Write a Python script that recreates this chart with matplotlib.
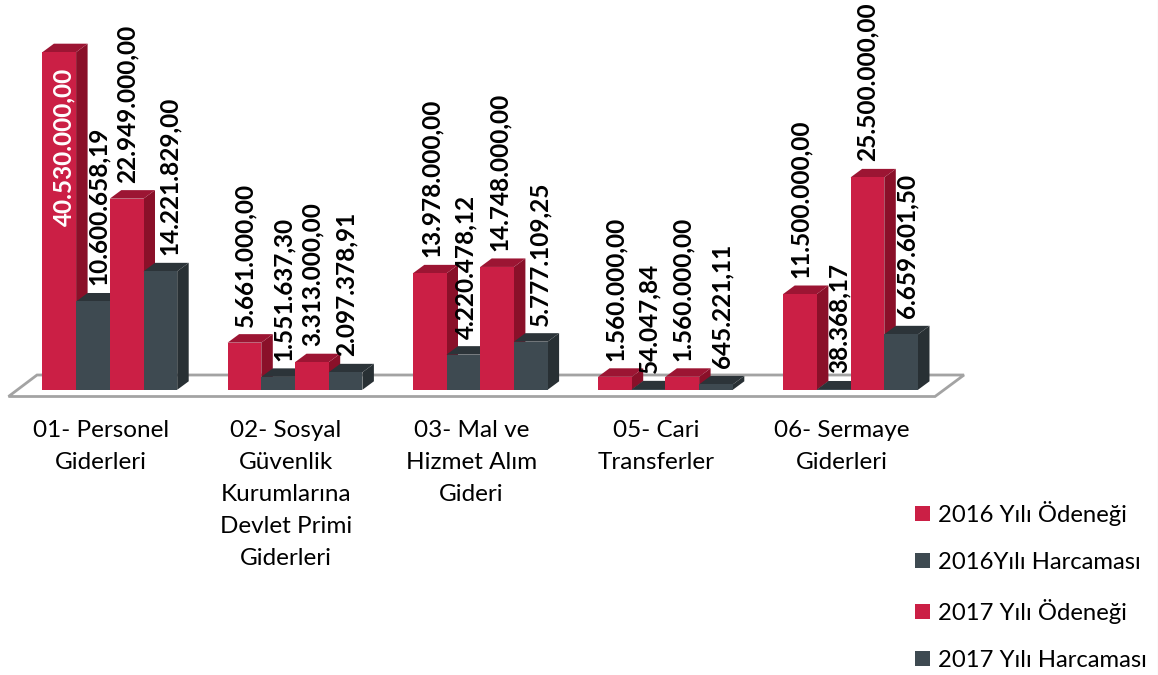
# 3D look clustered bars: budget vs spending 2016/2017, per expense group
import matplotlib
matplotlib.use("Agg")
import matplotlib.pyplot as plt
from matplotlib.patches import Patch, Polygon

categories = ["01- Personel\nGiderleri",
              "02- Sosyal\nGüvenlik\nKurumlarına\nDevlet Primi\nGiderleri",
              "03- Mal ve\nHizmet Alım\nGideri",
              "05- Cari\nTransferler",
              "06- Sermaye\nGiderleri"]
series_names = ["2016 Yılı Ödeneği", "2016Yılı Harcaması",
                "2017 Yılı Ödeneği", "2017 Yılı Harcaması"]
odenek_2016 = [40530000.00, 5661000.00, 13978000.00, 1560000.00, 11500000.00]
harcama_2016 = [10600658.19, 1551637.30, 4220478.12, 54047.84, 38368.17]
odenek_2017 = [22949000.00, 3313000.00, 14748000.00, 1560000.00, 25500000.00]
harcama_2017 = [14221829.00, 2097378.91, 5777109.25, 645221.11, 6659601.50]
all_series = [odenek_2016, harcama_2016, odenek_2017, harcama_2017]

RED = ("#CB1F45", "#8A1029", "#9C1533")   # front, side, top
DARK = ("#3E4A51", "#283034", "#2C3439")
styles = [RED, DARK, RED, DARK]

W, H, dpi = 1158, 675, 100
PX_PER_GROUP = 185.2
PX_PER_VALUE = 8.33 / 1e6
X0, Y0 = 109.8, 389.8          # pixel position of first group centre / base line
BAR_W = 33.7 / PX_PER_GROUP
DX, DY = 11.5 / PX_PER_GROUP, 8.5 / PX_PER_VALUE   # depth of the fake 3D

def tr(s):
    return f"{s:,.2f}".replace(",", "X").replace(".", ",").replace("X", ".")

fig = plt.figure(figsize=(W / dpi, H / dpi), dpi=dpi)
ax = fig.add_axes([0, 0, 1, 1])
ax.set_xlim(-X0 / PX_PER_GROUP, (W - X0) / PX_PER_GROUP)
ax.set_ylim((Y0 - H) / PX_PER_VALUE, Y0 / PX_PER_VALUE)
ax.set_xticks([])
ax.set_yticks([])
for side in ["top", "bottom", "left"]:
    ax.spines[side].set_visible(False)
ax.spines["right"].set_color("#C8C8C8")
ax.spines["right"].set_linewidth(0.8)

# floor
fx = lambda p: (p - X0) / PX_PER_GROUP
fy = lambda p: (Y0 - p) / PX_PER_VALUE
floor = Polygon([(fx(8.5), fy(396.5)), (fx(37), fy(375)), (fx(964), fy(375)), (fx(935), fy(396.5))],
                closed=True, fc="white", ec="#A3A3A3", lw=2.0, zorder=1)
ax.add_patch(floor)

# bars, left to right so each one covers the side of the previous one
z = 2
for g in range(len(categories)):
    for s, values in enumerate(all_series):
        v = values[g]
        x = g + (s - 2) * BAR_W
        front, side, top = styles[s]
        ax.add_patch(Polygon([(x + BAR_W, 0), (x + BAR_W + DX, DY), (x + BAR_W + DX, v + DY), (x + BAR_W, v)],
                             fc=side, ec="none", zorder=z))
        ax.add_patch(Polygon([(x, v), (x + DX, v + DY), (x + BAR_W + DX, v + DY), (x + BAR_W, v)],
                             fc=top, ec="none", zorder=z))
        ax.bar(x, v, width=BAR_W, align="edge", color=front, zorder=z + 0.5)
        z += 1

# value labels, some are pushed right as in the original
nudges = [[0, 5, 0, 9], [0, 5, 0, 0], [2, 3, 2, 9], [0, 0, 0, 6], [0, 5, 0, 6]]
for g in range(len(categories)):
    for s, values in enumerate(all_series):
        v = values[g]
        cx = g + (s - 1.5) * BAR_W + nudges[g][s] / PX_PER_GROUP
        if g == 0 and s == 0:
            ax.text(cx + 5 / PX_PER_GROUP, v - 16 / PX_PER_VALUE, tr(v), rotation=90, color="white",
                    ha="center", va="top", fontsize=17.6, fontweight="bold", family="Lato", zorder=200)
        else:
            ax.text(cx, v + 16 / PX_PER_VALUE, tr(v), rotation=90, color="black",
                    ha="center", va="bottom", fontsize=17.6, fontweight="bold", family="Lato", zorder=200)

# category labels
for g, name in enumerate(categories):
    ax.text(g - 9 / PX_PER_GROUP, fy(420), name, ha="center", va="top", fontsize=17.5, family="Lato",
            linespacing=1.65, zorder=200)

handles = [Patch(fc=styles[i][0], ec="none") for i in range(4)]
ax.legend(handles, series_names, loc="lower left", bbox_to_anchor=(915 / W, 1 - 671 / H), frameon=False,
          prop={"family": "Lato", "size": 17.2}, handlelength=0.63, handleheight=0.63,
          handletextpad=0.33, labelspacing=1.09, borderpad=0, borderaxespad=0)

fig.savefig("out.png", dpi=dpi)
